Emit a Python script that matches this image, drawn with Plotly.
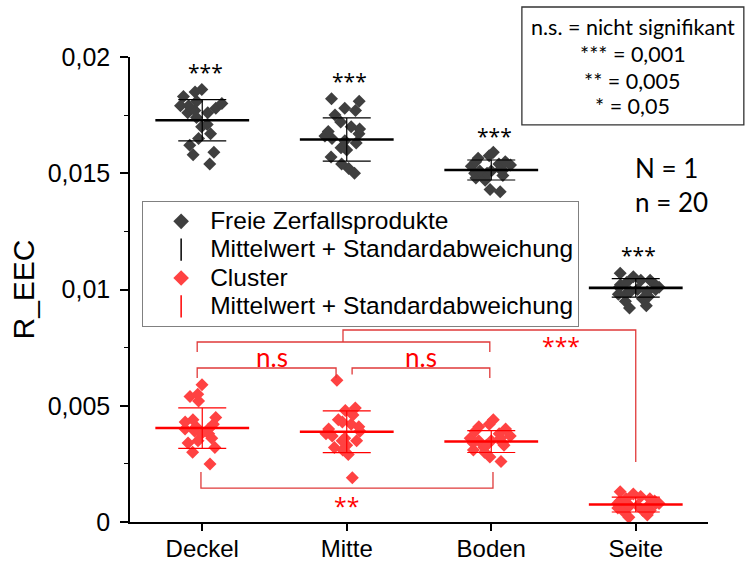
import plotly.graph_objects as go

# Sample positions along the x axis
categories = ["Deckel", "Mitte", "Boden", "Seite"]

# R_EEC of the free decay products, 20 values per position
free_deckel = [0.0186, 0.0185, 0.0183, 0.0181, 0.0179, 0.0178, 0.0180, 0.0176, 0.0177, 0.0174,
               0.0179, 0.0171, 0.0170, 0.0167, 0.0165, 0.0162, 0.0159, 0.0158, 0.0154, 0.0176]
free_mitte = [0.0181, 0.0182, 0.0178, 0.0177, 0.0175, 0.0172, 0.0170, 0.0169, 0.0168, 0.0167,
              0.0166, 0.0164, 0.0163, 0.0161, 0.0160, 0.0157, 0.0154, 0.0152, 0.0150, 0.0165]
free_boden = [0.0159, 0.01575, 0.0155, 0.01565, 0.0155, 0.0153, 0.01535, 0.0151, 0.0151, 0.0150,
              0.0149, 0.0152, 0.0148, 0.0147, 0.0143, 0.0142, 0.0151, 0.0154, 0.0150, 0.0148]
free_seite = [0.0107, 0.01055, 0.0104, 0.0103, 0.0102, 0.0101, 0.0100, 0.0099, 0.0098, 0.0097,
              0.0095, 0.0093, 0.0092, 0.0100, 0.0102, 0.0099, 0.0104, 0.0101, 0.0098, 0.0096]

# R_EEC of the clusters, 20 values per position
cluster_deckel = [0.0059, 0.0055, 0.0054, 0.0052, 0.0045, 0.0043, 0.0041, 0.0040, 0.0039, 0.0038,
                  0.0035, 0.0034, 0.0032, 0.0030, 0.0025, 0.0042, 0.0040, 0.0036, 0.0044, 0.0038]
cluster_mitte = [0.0061, 0.0049, 0.0048, 0.0046, 0.0044, 0.0042, 0.0041, 0.0039, 0.0038, 0.0036,
                 0.0035, 0.0035, 0.0033, 0.0032, 0.0029, 0.0019, 0.0040, 0.0037, 0.0043, 0.0031]
cluster_boden = [0.0044, 0.0042, 0.0041, 0.0040, 0.0039, 0.0038, 0.0036, 0.0035, 0.0035, 0.0034,
                 0.0033, 0.0033, 0.0032, 0.0030, 0.0028, 0.0026, 0.0037, 0.0034, 0.0031, 0.0036]
cluster_seite = [0.0013, 0.0012, 0.0011, 0.0010, 0.0009, 0.0009, 0.0008, 0.0008, 0.0007, 0.0007,
                 0.0006, 0.0006, 0.0005, 0.0004, 0.0003, 0.0002, 0.0010, 0.0007, 0.0005, 0.0008]

# Mean and standard deviation per position
free_mean = [0.01728, 0.01645, 0.01514, 0.01007]
free_sd = [0.00089, 0.00093, 0.00043, 0.00040]
cluster_mean = [0.00404, 0.00388, 0.00346, 0.00075]
cluster_sd = [0.00087, 0.00090, 0.00047, 0.00032]

free_groups = [free_deckel, free_mitte, free_boden, free_seite]
cluster_groups = [cluster_deckel, cluster_mitte, cluster_boden, cluster_seite]

SANS = "Liberation Sans, Arial, sans-serif"
NOTE = "Lato, Calibri, sans-serif"
STAR = "Open Sans, sans-serif"
DARK = "#3f3f3f"
RED_PT = "#ff4242"
RED = "#ff0000"
BRACKET = "#e03a3a"

pos = list(range(len(categories)))

fig = go.Figure()


def strip(groups, color):
    xs, ys = [], []
    for i, vals in zip(pos, groups):
        xs += [i] * len(vals)
        ys += vals
    return go.Box(
        x=xs, y=ys, boxpoints="all", jitter=0.9, pointpos=0, width=0.36,
        fillcolor="rgba(0,0,0,0)", line=dict(width=0, color="rgba(0,0,0,0)"),
        marker=dict(symbol="diamond", size=10, color=color, line=dict(width=0)),
        showlegend=False, hoverinfo="y",
    )


def mean_sd(mean, sd, color):
    return go.Scatter(
        x=pos, y=mean, mode="markers", showlegend=False,
        marker=dict(symbol="line-ew", size=67, color=color,
                    line=dict(width=2.6, color=color)),
        error_y=dict(type="data", array=sd, visible=True, width=24,
                     thickness=1.2, color=color),
    )


fig.add_trace(strip(free_groups, DARK))
fig.add_trace(strip(cluster_groups, RED_PT))
fig.add_trace(mean_sd(free_mean, free_sd, "black"))
fig.add_trace(mean_sd(cluster_mean, cluster_sd, RED))

# legend entries (larger glyphs, compact rows)
legend_items = [
    ("Freie Zerfallsprodukte", "diamond", 12, DARK, 0),
    ("Mittelwert + Standardabweichung", "line-ns", 16, "black", 1.5),
    ("Cluster", "diamond", 12, RED_PT, 0),
    ("Mittelwert + Standardabweichung", "line-ns", 16, RED, 1.5),
]
for name, sym, size, col, lw in legend_items:
    fig.add_trace(go.Scatter(
        x=[None], y=[None], mode="markers",
        name='<span style="font-size:24.5px">' + name + "</span>",
        marker=dict(symbol=sym, size=size, color=col, line=dict(width=lw, color=col)),
    ))

# significance brackets
brackets = [
    "M -0.035,0.00731 V 0.007742 H 1.99 V 0.00731",
    "M 0.974,0.007742 V 0.008258 H 3.0 V 0.00258",
    "M -0.035,0.006194 V 0.006624 H 0.926 V 0.006194",
    "M 1.037,0.00634 V 0.006624 H 1.99 V 0.006194",
    "M -0.009,0.00215 V 0.00146 H 2.012 V 0.00215",
]
shapes = [dict(type="path", path=p, xref="x", yref="y",
               line=dict(color=BRACKET, width=1.3)) for p in brackets]

# key for the significance levels
shapes.append(dict(type="rect", xref="paper", yref="paper",
                   x0=0.678, x1=1.062, y0=0.854, y1=1.1075,
                   line=dict(color="#333333", width=1.3), fillcolor="white"))

annotations = []
star_y = [0.01935, 0.01897, 0.01660, 0.01148]
for i, yv in zip(pos, star_y):
    annotations.append(dict(x=i, y=yv, xref="x", yref="y", text="***", showarrow=False,
                            xshift=3, font=dict(family=STAR, size=21, color="black")))

red_labels = [("n.s", 0.483, 0.00710, NOTE, 26), ("n.s", 1.514, 0.00710, NOTE, 26),
              ("***", 2.483, 0.00757, STAR, 23), ("**", 1.0, 0.00069, STAR, 23)]
for txt, xv, yv, fam, fs in red_labels:
    annotations.append(dict(x=xv, y=yv, xref="x", yref="y", text=txt, showarrow=False,
                            font=dict(family=fam, size=fs, color=RED)))

key_lines = ["n.s. = nicht signifikant", "*** = 0,001", "** = 0,005", "* = 0,05"]
key_y = [1.0645, 1.0065, 0.9484, 0.8946]
for txt, yv in zip(key_lines, key_y):
    annotations.append(dict(x=0.870, y=yv, xref="paper", yref="paper", text=txt,
                            showarrow=False, xanchor="center", yanchor="middle",
                            font=dict(family=NOTE, size=21.5, color="black")))

for txt, yv in [("N = 1", 0.761), ("n = 20", 0.688)]:
    annotations.append(dict(x=0.870, y=yv, xref="paper", yref="paper", text=txt,
                            showarrow=False, xanchor="left", yanchor="middle",
                            font=dict(family=NOTE, size=26, color="black")))

fig.update_layout(
    width=747, height=563,
    margin=dict(l=130, r=39, t=57, b=41),
    paper_bgcolor="white", plot_bgcolor="white",
    separators=",.",
    boxmode="overlay",
    font=dict(family=SANS, size=24, color="black"),
    shapes=shapes, annotations=annotations,
    legend=dict(x=0.021, y=0.69, xanchor="left", yanchor="top",
                bordercolor="#808080", borderwidth=1, bgcolor="white",
                font=dict(family=SANS, size=19.5, color="black"),
                indentation=9, itemwidth=48, tracegroupgap=0, itemsizing="trace"),
    xaxis=dict(range=[-0.5, 3.5], tickvals=pos, ticktext=categories,
               showline=True, linecolor="black", linewidth=1.5,
               ticks="outside", ticklen=7, tickwidth=1.5, tickcolor="black",
               showgrid=False, zeroline=False, automargin=False,
               ticklabelstandoff=-3,
               tickfont=dict(family=SANS, size=24)),
    yaxis=dict(range=[0, 0.02], dtick=0.005, tick0=0,
               showline=True, linecolor="black", linewidth=1.5,
               ticks="outside", ticklen=8, tickwidth=1.5, tickcolor="black",
               minor=dict(ticks="outside", dtick=0.0025, ticklen=4, tickwidth=1.2,
                          tickcolor="black", showgrid=False),
               showgrid=False, zeroline=False, automargin=False,
               ticklabelstandoff=5,
               tickfont=dict(family=SANS, size=25),
               title=dict(text="R_EEC", font=dict(family=SANS, size=30), standoff=4)),
)

fig.write_html("out.html")
